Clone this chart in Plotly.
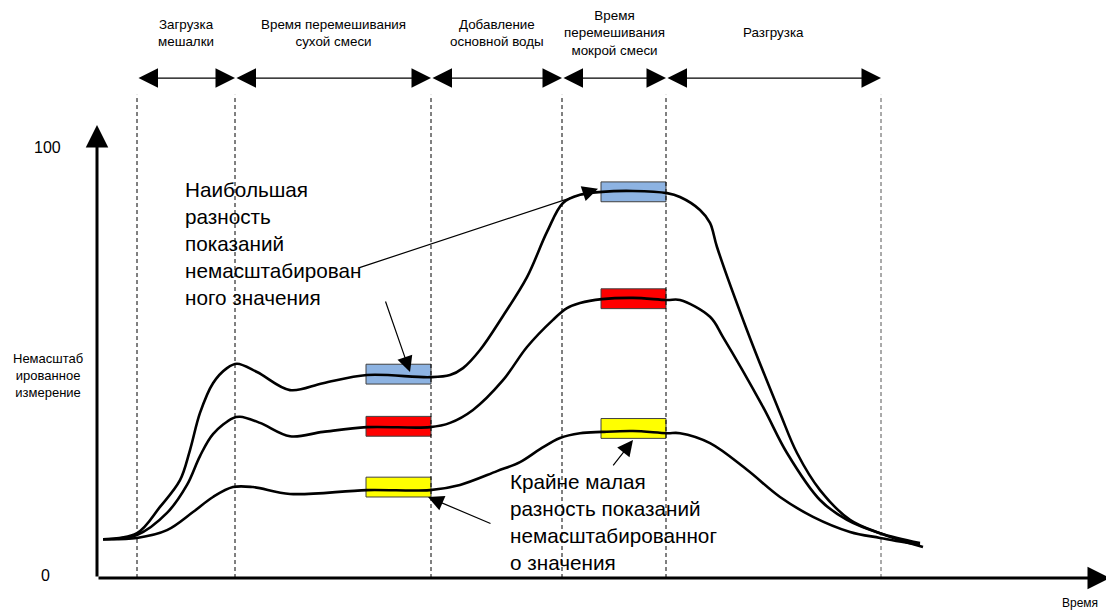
import plotly.graph_objects as go

# phase boundaries on the time axis
phase_bounds = [4.0, 13.8, 33.4, 46.5, 56.9, 78.4]
phase_labels = ['Загрузка<br>мешалки', 'Время перемешивания<br>сухой смеси',
                'Добавление<br>основной воды', 'Время<br>перемешивания<br>мокрой смеси',
                'Разгрузка']

# three sensor readings
top_t = [0.6, 4.0, 6.3, 8.3, 9.3, 10.3, 11.6, 13.0, 14.0, 16.0, 19.3, 22.6, 27.0, 33.3,
         35.3, 36.6, 38.3, 40.6, 43.0, 45.0, 46.6, 48.3, 50.5, 53.6, 57.0, 58.3,
         60.3, 61.3, 62.0, 65.0, 68.3, 70.0, 72.3, 75.3, 78.3, 82.6]
top_v = [9.0, 10.4, 16.5, 22.7, 29.7, 38.3, 45.2, 48.7, 49.7, 47.8, 43.6, 45.2, 47.1, 46.6,
         47.1, 48.7, 52.9, 60.8, 69.8, 80.3, 87.0, 88.9, 89.6, 89.8, 89.3, 88.4,
         85.4, 82.4, 76.8, 57.5, 38.3, 29.0, 20.4, 13.5, 10.4, 7.2]

mid_t = [0.6, 4.0, 7.0, 9.0, 10.3, 11.6, 13.6, 14.3, 16.3, 19.3, 22.6, 27.0, 33.3, 35.3,
         37.6, 40.6, 43.0, 45.6, 47.0, 48.3, 50.5, 53.6, 57.0, 58.3, 61.3, 62.6, 66.6,
         69.0, 72.3, 75.0, 78.3, 82.3]
mid_v = [9.0, 10.0, 15.1, 21.6, 28.3, 33.4, 37.1, 37.4, 36.0, 32.9, 33.9, 35.0, 35.0, 36.0,
         39.0, 45.9, 53.6, 59.9, 62.6, 63.8, 64.7, 65.0, 64.5, 64.5, 60.6, 55.9, 39.7,
         29.0, 18.1, 13.5, 10.4, 8.1]

low_t = [0.6, 4.0, 7.0, 9.6, 11.6, 13.6, 15.6, 19.3, 27.0, 33.3, 36.3, 40.0, 42.3, 44.3,
         46.3, 48.3, 50.5, 53.6, 57.0, 58.3, 61.3, 65.0, 68.3, 71.6, 75.3, 78.3, 82.3]
low_v = [9.0, 9.3, 11.1, 15.3, 18.8, 21.1, 21.1, 19.5, 20.4, 20.4, 21.6, 24.8, 26.9, 29.9,
         32.5, 33.6, 33.9, 34.1, 33.6, 33.6, 31.3, 25.1, 18.8, 14.2, 10.7, 9.3, 7.7]

# reading windows (end of dry mix, end of wet mix) and levels in them
win_start = [26.9, 50.4]
win_end = [33.4, 56.9]
win_levels = {'#8db3e2': [47.3, 89.6], '#ff0000': [35.2, 64.8], '#ffff00': [21.1, 34.7]}
win_half = 2.3

font = 'Liberation Sans, Arial, sans-serif'

fig = go.Figure()

for t, v in [(top_t, top_v), (mid_t, mid_v), (low_t, low_v)]:
    fig.add_trace(go.Scatter(x=t, y=v, mode='lines',
                             line=dict(color='black', width=2.6, shape='spline', smoothing=1.0),
                             hoverinfo='skip', showlegend=False))

shapes = []
for color, levels in win_levels.items():
    for x0, x1, lv in zip(win_start, win_end, levels):
        shapes.append(dict(type='rect', x0=x0, x1=x1, y0=lv - win_half, y1=lv + win_half,
                           fillcolor=color, line=dict(color='#404040', width=1), layer='below'))
for i, b in enumerate(phase_bounds):
    shapes.append(dict(type='line', x0=b, x1=b, y0=0, y1=112.1,
                       line=dict(color='black' if i < 5 else '#555', width=1, dash='4px,3px'),
                       layer='below'))

ann = []
# phase arrows and labels
for i in range(len(phase_labels)):
    a, b = phase_bounds[i], phase_bounds[i + 1]
    ann.append(dict(x=b, y=116.0, ax=a, ay=116.0, axref='x', ayref='y', text='', showarrow=True,
                    arrowside='end+start', arrowhead=2, arrowsize=3.0, arrowwidth=1.3,
                    arrowcolor='black'))
    ann.append(dict(x=(a + b) / 2, y=126.5, text=phase_labels[i], showarrow=False,
                    font=dict(size=13.4, color='black', family=font)))

# axes with arrows
ann.append(dict(x=0, y=105.1, ax=0, ay=0, axref='x', ayref='y', text='', showarrow=True,
                arrowhead=2, arrowsize=1.5, arrowwidth=3, arrowcolor='black'))
ann.append(dict(x=101.3, y=0, ax=0, ay=0, axref='x', ayref='y', text='', showarrow=True,
                arrowhead=2, arrowsize=1.5, arrowwidth=3, arrowcolor='black'))
ann.append(dict(x=-4.95, y=100, text='100', showarrow=False,
                font=dict(size=16, color='black', family=font)))
ann.append(dict(x=-5.15, y=0.6, text='0', showarrow=False,
                font=dict(size=16, color='black', family=font)))
ann.append(dict(x=-4.9, y=46.9, text='Немасштаб<br>ированное<br>измерение', showarrow=False,
                font=dict(size=13, color='black', family=font)))
ann.append(dict(x=98.3, y=-5.8, text='Время', showarrow=False,
                font=dict(size=12, color='black', family=font)))

# callouts
ann.append(dict(x=8.6, y=77.7, xanchor='left', align='left', showarrow=False,
                text='Наибольшая<br>разность<br>показаний<br>немасштабирован<br>ного значения',
                font=dict(size=20.7, color='black', family=font)))
ann.append(dict(x=41.1, y=13.0, xanchor='left', align='left', showarrow=False,
                text='Крайне малая<br>разность показаний<br>немасштабированног<br>о значения',
                font=dict(size=20.7, color='black', family=font)))
for tip, tail in [((50.1, 90.3), (26.1, 71.9)), ((31.3, 47.8), (28.8, 64.5)),
                  ((53.6, 32.0), (51.5, 25.8)), ((33.1, 18.8), (39.5, 12.5))]:
    ann.append(dict(x=tip[0], y=tip[1], ax=tail[0], ay=tail[1], axref='x', ayref='y', text='',
                    showarrow=True, arrowhead=2, arrowsize=2.6, arrowwidth=1.2, arrowcolor='black'))

# the page body adds an 8px offset, so the figure is 8px smaller on each side
fig.update_layout(width=1106, height=602, margin=dict(l=0, r=0, t=0, b=0),
                  paper_bgcolor='white', plot_bgcolor='white',
                  xaxis=dict(range=[-8.9, 101.7], visible=False),
                  yaxis=dict(range=[-7.42, 132.25], visible=False),
                  shapes=shapes, annotations=ann, font=dict(family=font))

fig.write_html('out.html')
